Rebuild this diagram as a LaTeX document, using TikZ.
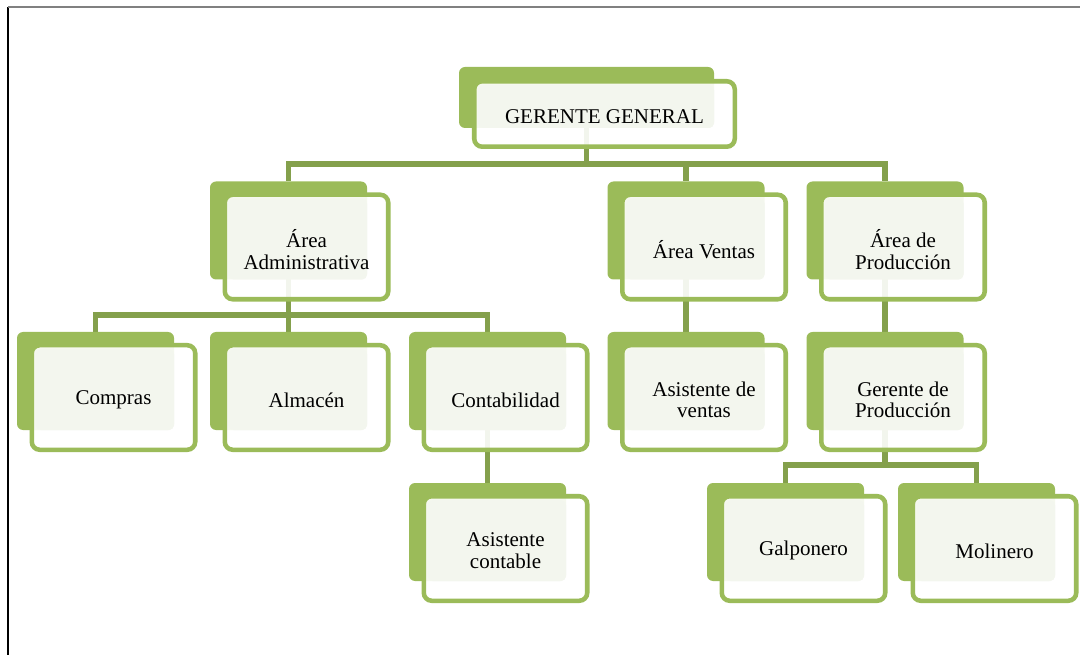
\documentclass[tikz,border=0pt]{standalone}
\usepackage{fontspec}
\setmainfont{Liberation Serif}
\usepackage{xcolor}
\usepackage{tikz}
\usetikzlibrary{calc, backgrounds}

\definecolor{boxgreen}{HTML}{9BBB59}
\definecolor{linegreen}{HTML}{84A04C}
\definecolor{palegreen}{HTML}{F3F6EE}

\tikzset{
  backbox/.style={fill=boxgreen, rounded corners=4.5pt,
    minimum width=117.75pt, minimum height=73.5pt, inner sep=0pt, outer sep=0pt},
  frontbox/.style={draw=boxgreen, line width=3.4pt, fill=white, fill opacity=0.9,
    rounded corners=6pt, minimum width=122.6pt, minimum height=78.4pt,
    inner sep=0pt, outer sep=0pt},
  palebox/.style={fill=palegreen, rounded corners=3.75pt},
  unitlabel/.style={align=center, yshift=-1.8pt, font=\fontsize{15.75}{16.2}\selectfont},
  conn/.style={draw=linegreen, line width=4pt},
}

% one unit of the chart: back tab, outlined card, pale face, label
\newcommand{\orgunit}[3]{%
  \node[backbox] (#1-b) at (#2) {};
  \node[frontbox] (#1) at ($(#1-b)+(18,16.5)$) {};
  \path[palebox] ($(#1.north west)+(4,4)$) rectangle (#1-b.south east);
  \node[unitlabel] (#1-t) at (#1) {#3};
}

\begin{document}
\begin{tikzpicture}[x=0.75pt, y=-0.75pt]

\useasboundingbox (0,0) rectangle (1080,655);

% page frame
\draw[black, line width=1.1pt] (8,7) -- (8,655);
\draw[gray, line width=1.5pt] (8,7) -- (1080,7);

\begin{scope}[backbox/.append style={minimum width=191.25pt, minimum height=45.75pt},
    frontbox/.append style={minimum width=195.4pt, minimum height=49.1pt}]
\orgunit{ggen}{586.5,97.5}{GERENTE GENERAL}
\end{scope}

\orgunit{adm}{288.5,230.5}{Área\\Administrativa}
\orgunit{ven}{686,230.5}{Área Ventas}
\orgunit{pro}{885,230.5}{Área de\\Producción}

\orgunit{com}{95.5,381}{Compras}
\orgunit{alm}{288.5,381}{Almacén}
\orgunit{con}{487.5,381}{Contabilidad}
\orgunit{asv}{686,381}{Asistente de\\ventas}
\orgunit{gpr}{885,381}{Gerente de\\Producción}

\orgunit{asc}{487.5,532}{Asistente\\contable}
\orgunit{gal}{785.5,532}{Galponero}
\orgunit{mol}{976.5,532}{Molinero}

\coordinate (bus1) at (0,164);
\coordinate (bus2) at (0,315);
\coordinate (bus3) at (0,465);

\begin{scope}[on background layer]
\draw[conn] (ggen-b.center) -- (ggen-b.center |- bus1) -| (adm-b.north);
\draw[conn] (ggen-b.center |- bus1) -| (ven-b.north);
\draw[conn] (ggen-b.center |- bus1) -| (pro-b.north);

\draw[conn] (adm-b.center) -- (adm-b.center |- bus2) -| (com-b.north);
\draw[conn] (adm-b.center |- bus2) -- (alm-b.north);
\draw[conn] (adm-b.center |- bus2) -| (con-b.north);
\draw[conn] (ven-b.center) -- (asv-b.north);
\draw[conn] (pro-b.center) -- (gpr-b.north);

\draw[conn] (con-b.center) -- (asc-b.north);
\draw[conn] (gpr-b.center) -- (gpr-b.center |- bus3) -| (gal-b.north);
\draw[conn] (gpr-b.center |- bus3) -| (mol-b.north);
\end{scope}

\end{tikzpicture}
\end{document}
